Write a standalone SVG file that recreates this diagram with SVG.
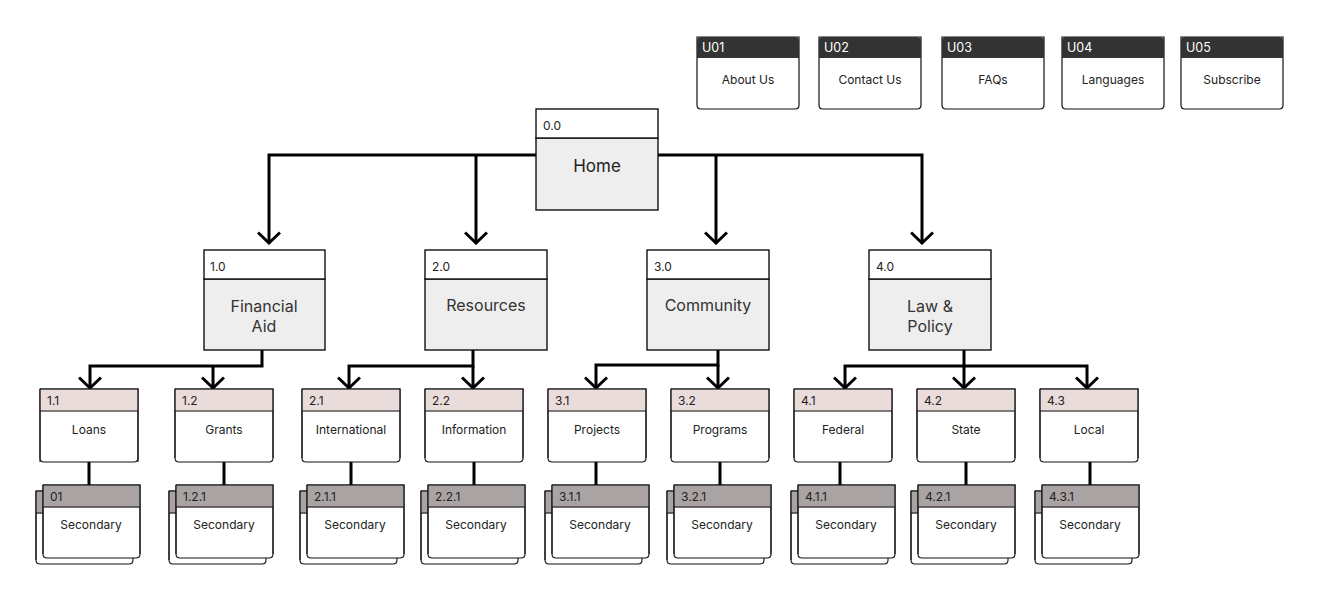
<svg xmlns="http://www.w3.org/2000/svg" width="1319" height="600" viewBox="0 0 1319 600">
<style>
text{font-family:Inter,"Noto Sans","Liberation Sans",sans-serif;fill:#222}
.id{font-size:12px}
.uid{font-size:12.5px;fill:#fff}
.lbl{font-size:12px;text-anchor:middle}
.big{font-size:16px;text-anchor:middle;fill:#333}
.home{font-size:17px;text-anchor:middle;fill:#222}
.ub{fill:#fff;stroke:#111;stroke-width:1.2}
.uh{fill:#333}
.b1{fill:#eee;stroke:#111;stroke-width:1.4}
.h1{fill:#fff;stroke:#111;stroke-width:1.4}
.b2{fill:#fff;stroke:#111;stroke-width:1.1}
.h2{fill:#ebdcdc}
.h3{fill:#aaa3a3}
.c{fill:none;stroke:#000;stroke-width:3}
</style>
<defs>
<marker id="arr" markerUnits="userSpaceOnUse" viewBox="-13 -12 15 24" markerWidth="15" markerHeight="24" refX="0" refY="0" orient="auto">
<path d="M-10.5,-11 L0,0 L-10.5,11" fill="none" stroke="#000" stroke-width="3"/>
</marker>
<path id="lv2" d="M0,0 H98 V69 Q98,73 94,73 H4 Q0,73 0,69 Z"/>
<path id="sec" d="M0,0 H97 V69 Q97,73 93,73 H4 Q0,73 0,69 Z"/>
</defs>

<g id="connectors">
<path class="c" d="M536,155 H269 V243" marker-end="url(#arr)"/>
<path class="c" d="M476,155 V243" marker-end="url(#arr)"/>
<path class="c" d="M658,155 H922 V243" marker-end="url(#arr)"/>
<path class="c" d="M716,155 V243" marker-end="url(#arr)"/>

<path class="c" d="M262,350 V366 H90 V388" marker-end="url(#arr)"/>
<path class="c" d="M213,366 V388" marker-end="url(#arr)"/>
<path class="c" d="M473,350 V366 H349 V388" marker-end="url(#arr)"/>
<path class="c" d="M473,366 V388" marker-end="url(#arr)"/>
<path class="c" d="M718,350 V365 H596 V388" marker-end="url(#arr)"/>
<path class="c" d="M718,365 V388" marker-end="url(#arr)"/>
<path class="c" d="M964,350 V366 H845 V388" marker-end="url(#arr)"/>
<path class="c" d="M964,366 V388" marker-end="url(#arr)"/>
<path class="c" d="M964,366 H1087 V388" marker-end="url(#arr)"/>

<path class="c" d="M89,462 V485 M224,462 V485 M351,462 V485 M474,462 V485 M596,462 V485 M720,462 V485 M840,462 V485 M966,462 V485 M1090,462 V485"/>
</g>

<!-- utility nodes -->
<g id="u01"><path class="ub" d="M697,37 H799 V105 Q799,109 795,109 H701 Q697,109 697,105 Z"/><path class="uh" d="M697,58 V41 Q697,37 701,37 H795 Q799,37 799,41 V58 Z"/><text class="uid" x="702" y="52">U01</text><text class="lbl" x="748" y="84">About Us</text></g>
<g id="u02"><path class="ub" d="M819,37 H921 V105 Q921,109 917,109 H823 Q819,109 819,105 Z"/><path class="uh" d="M819,58 V41 Q819,37 823,37 H917 Q921,37 921,41 V58 Z"/><text class="uid" x="824" y="52">U02</text><text class="lbl" x="870" y="84">Contact Us</text></g>
<g id="u03"><path class="ub" d="M942,37 H1044 V105 Q1044,109 1040,109 H946 Q942,109 942,105 Z"/><path class="uh" d="M942,58 V41 Q942,37 946,37 H1040 Q1044,37 1044,41 V58 Z"/><text class="uid" x="947" y="52">U03</text><text class="lbl" x="993" y="84">FAQs</text></g>
<g id="u04"><path class="ub" d="M1062,37 H1164 V105 Q1164,109 1160,109 H1066 Q1062,109 1062,105 Z"/><path class="uh" d="M1062,58 V41 Q1062,37 1066,37 H1160 Q1164,37 1164,41 V58 Z"/><text class="uid" x="1067" y="52">U04</text><text class="lbl" x="1113" y="84">Languages</text></g>
<g id="u05"><path class="ub" d="M1181,37 H1283 V105 Q1283,109 1279,109 H1185 Q1181,109 1181,105 Z"/><path class="uh" d="M1181,58 V41 Q1181,37 1185,37 H1279 Q1283,37 1283,41 V58 Z"/><text class="uid" x="1186" y="52">U05</text><text class="lbl" x="1232" y="84">Subscribe</text></g>

<!-- home -->
<g id="n0"><rect class="b1" x="536" y="138" width="122" height="72"/><rect class="h1" x="536" y="109" width="122" height="29"/><text class="id" x="543" y="130">0.0</text><text class="home" x="597" y="172">Home</text></g>

<!-- level 1 -->
<g id="n1"><rect class="b1" x="204" y="279" width="121" height="71"/><rect class="h1" x="204" y="250" width="121" height="29"/><text class="id" x="210" y="271">1.0</text><text class="big" x="264" y="312">Financial</text><text class="big" x="264" y="332">Aid</text></g>
<g id="n2"><rect class="b1" x="425" y="279" width="122" height="71"/><rect class="h1" x="425" y="250" width="122" height="29"/><text class="id" x="432" y="271">2.0</text><text class="big" x="486" y="311">Resources</text></g>
<g id="n3"><rect class="b1" x="647" y="279" width="122" height="71"/><rect class="h1" x="647" y="250" width="122" height="29"/><text class="id" x="654" y="271">3.0</text><text class="big" x="708" y="311">Community</text></g>
<g id="n4"><rect class="b1" x="869" y="279" width="122" height="71"/><rect class="h1" x="869" y="250" width="122" height="29"/><text class="id" x="876" y="271">4.0</text><text class="big" x="930" y="312">Law &amp;</text><text class="big" x="930" y="332">Policy</text></g>

<!-- level 2 -->
<g id="n11" transform="translate(40,389)"><use href="#lv2" class="b2"/><rect class="h2" x="0.5" y="0.5" width="97" height="22"/><path d="M0,0 H98 V73 M0,0 V73 M0,22 H98" fill="none" stroke="#111" stroke-width="1.1"/><text class="id" x="7" y="16">1.1</text><text class="lbl" x="49" y="45">Loans</text></g>
<g id="n12" transform="translate(175,389)"><use href="#lv2" class="b2"/><rect class="h2" x="0.5" y="0.5" width="97" height="22"/><path d="M0,0 H98 V69 M0,0 V69 M0,22 H98" fill="none" stroke="#111" stroke-width="1.1"/><text class="id" x="7" y="16">1.2</text><text class="lbl" x="49" y="45">Grants</text></g>
<g id="n21" transform="translate(302,389)"><use href="#lv2" class="b2"/><rect class="h2" x="0.5" y="0.5" width="97" height="22"/><path d="M0,0 H98 V69 M0,0 V69 M0,22 H98" fill="none" stroke="#111" stroke-width="1.1"/><text class="id" x="7" y="16">2.1</text><text class="lbl" x="49" y="45">International</text></g>
<g id="n22" transform="translate(425,389)"><use href="#lv2" class="b2"/><rect class="h2" x="0.5" y="0.5" width="97" height="22"/><path d="M0,0 H98 V69 M0,0 V69 M0,22 H98" fill="none" stroke="#111" stroke-width="1.1"/><text class="id" x="7" y="16">2.2</text><text class="lbl" x="49" y="45">Information</text></g>
<g id="n31" transform="translate(548,389)"><use href="#lv2" class="b2"/><rect class="h2" x="0.5" y="0.5" width="97" height="22"/><path d="M0,0 H98 V69 M0,0 V69 M0,22 H98" fill="none" stroke="#111" stroke-width="1.1"/><text class="id" x="7" y="16">3.1</text><text class="lbl" x="49" y="45">Projects</text></g>
<g id="n32" transform="translate(671,389)"><use href="#lv2" class="b2"/><rect class="h2" x="0.5" y="0.5" width="97" height="22"/><path d="M0,0 H98 V69 M0,0 V69 M0,22 H98" fill="none" stroke="#111" stroke-width="1.1"/><text class="id" x="7" y="16">3.2</text><text class="lbl" x="49" y="45">Programs</text></g>
<g id="n41" transform="translate(794,389)"><use href="#lv2" class="b2"/><rect class="h2" x="0.5" y="0.5" width="97" height="22"/><path d="M0,0 H98 V69 M0,0 V69 M0,22 H98" fill="none" stroke="#111" stroke-width="1.1"/><text class="id" x="7" y="16">4.1</text><text class="lbl" x="49" y="45">Federal</text></g>
<g id="n42" transform="translate(917,389)"><use href="#lv2" class="b2"/><rect class="h2" x="0.5" y="0.5" width="97" height="22"/><path d="M0,0 H98 V69 M0,0 V69 M0,22 H98" fill="none" stroke="#111" stroke-width="1.1"/><text class="id" x="7" y="16">4.2</text><text class="lbl" x="49" y="45">State</text></g>
<g id="n43" transform="translate(1040,389)"><use href="#lv2" class="b2"/><rect class="h2" x="0.5" y="0.5" width="97" height="22"/><path d="M0,0 H98 V69 M0,0 V69 M0,22 H98" fill="none" stroke="#111" stroke-width="1.1"/><text class="id" x="7" y="16">4.3</text><text class="lbl" x="49" y="45">Local</text></g>

<!-- secondary -->
<g id="s11" transform="translate(43,485)"><g transform="translate(-7,6)"><use href="#sec" class="b2"/><rect class="h3" x="0.5" y="0.5" width="96" height="22"/><path d="M0,0 H97 M0,0 V69 M0,22 H8" fill="none" stroke="#111" stroke-width="1.1"/></g><use href="#sec" class="b2"/><rect class="h3" x="0.5" y="0.5" width="96" height="22"/><path d="M0,0 H97 V69 M0,0 V69 M0,22 H97" fill="none" stroke="#111" stroke-width="1.1"/><text class="id" x="7" y="16">01</text><text class="lbl" x="48" y="44">Secondary</text></g>
<g id="s12" transform="translate(176,485)"><g transform="translate(-7,6)"><use href="#sec" class="b2"/><rect class="h3" x="0.5" y="0.5" width="96" height="22"/><path d="M0,0 H97 M0,0 V69 M0,22 H8" fill="none" stroke="#111" stroke-width="1.1"/></g><use href="#sec" class="b2"/><rect class="h3" x="0.5" y="0.5" width="96" height="22"/><path d="M0,0 H97 V69 M0,0 V69 M0,22 H97" fill="none" stroke="#111" stroke-width="1.1"/><text class="id" x="7" y="16">1.2.1</text><text class="lbl" x="48" y="44">Secondary</text></g>
<g id="s21" transform="translate(307,485)"><g transform="translate(-7,6)"><use href="#sec" class="b2"/><rect class="h3" x="0.5" y="0.5" width="96" height="22"/><path d="M0,0 H97 M0,0 V69 M0,22 H8" fill="none" stroke="#111" stroke-width="1.1"/></g><use href="#sec" class="b2"/><rect class="h3" x="0.5" y="0.5" width="96" height="22"/><path d="M0,0 H97 V69 M0,0 V69 M0,22 H97" fill="none" stroke="#111" stroke-width="1.1"/><text class="id" x="7" y="16">2.1.1</text><text class="lbl" x="48" y="44">Secondary</text></g>
<g id="s22" transform="translate(428,485)"><g transform="translate(-7,6)"><use href="#sec" class="b2"/><rect class="h3" x="0.5" y="0.5" width="96" height="22"/><path d="M0,0 H97 M0,0 V69 M0,22 H8" fill="none" stroke="#111" stroke-width="1.1"/></g><use href="#sec" class="b2"/><rect class="h3" x="0.5" y="0.5" width="96" height="22"/><path d="M0,0 H97 V69 M0,0 V69 M0,22 H97" fill="none" stroke="#111" stroke-width="1.1"/><text class="id" x="7" y="16">2.2.1</text><text class="lbl" x="48" y="44">Secondary</text></g>
<g id="s31" transform="translate(552,485)"><g transform="translate(-7,6)"><use href="#sec" class="b2"/><rect class="h3" x="0.5" y="0.5" width="96" height="22"/><path d="M0,0 H97 M0,0 V69 M0,22 H8" fill="none" stroke="#111" stroke-width="1.1"/></g><use href="#sec" class="b2"/><rect class="h3" x="0.5" y="0.5" width="96" height="22"/><path d="M0,0 H97 V69 M0,0 V69 M0,22 H97" fill="none" stroke="#111" stroke-width="1.1"/><text class="id" x="7" y="16">3.1.1</text><text class="lbl" x="48" y="44">Secondary</text></g>
<g id="s32" transform="translate(674,485)"><g transform="translate(-7,6)"><use href="#sec" class="b2"/><rect class="h3" x="0.5" y="0.5" width="96" height="22"/><path d="M0,0 H97 M0,0 V69 M0,22 H8" fill="none" stroke="#111" stroke-width="1.1"/></g><use href="#sec" class="b2"/><rect class="h3" x="0.5" y="0.5" width="96" height="22"/><path d="M0,0 H97 V69 M0,0 V69 M0,22 H97" fill="none" stroke="#111" stroke-width="1.1"/><text class="id" x="7" y="16">3.2.1</text><text class="lbl" x="48" y="44">Secondary</text></g>
<g id="s41" transform="translate(798,485)"><g transform="translate(-7,6)"><use href="#sec" class="b2"/><rect class="h3" x="0.5" y="0.5" width="96" height="22"/><path d="M0,0 H97 M0,0 V69 M0,22 H8" fill="none" stroke="#111" stroke-width="1.1"/></g><use href="#sec" class="b2"/><rect class="h3" x="0.5" y="0.5" width="96" height="22"/><path d="M0,0 H97 V69 M0,0 V69 M0,22 H97" fill="none" stroke="#111" stroke-width="1.1"/><text class="id" x="7" y="16">4.1.1</text><text class="lbl" x="48" y="44">Secondary</text></g>
<g id="s42" transform="translate(918,485)"><g transform="translate(-7,6)"><use href="#sec" class="b2"/><rect class="h3" x="0.5" y="0.5" width="96" height="22"/><path d="M0,0 H97 M0,0 V69 M0,22 H8" fill="none" stroke="#111" stroke-width="1.1"/></g><use href="#sec" class="b2"/><rect class="h3" x="0.5" y="0.5" width="96" height="22"/><path d="M0,0 H97 V69 M0,0 V69 M0,22 H97" fill="none" stroke="#111" stroke-width="1.1"/><text class="id" x="7" y="16">4.2.1</text><text class="lbl" x="48" y="44">Secondary</text></g>
<g id="s43" transform="translate(1042,485)"><g transform="translate(-7,6)"><use href="#sec" class="b2"/><rect class="h3" x="0.5" y="0.5" width="96" height="22"/><path d="M0,0 H97 M0,0 V69 M0,22 H8" fill="none" stroke="#111" stroke-width="1.1"/></g><use href="#sec" class="b2"/><rect class="h3" x="0.5" y="0.5" width="96" height="22"/><path d="M0,0 H97 V69 M0,0 V69 M0,22 H97" fill="none" stroke="#111" stroke-width="1.1"/><text class="id" x="7" y="16">4.3.1</text><text class="lbl" x="48" y="44">Secondary</text></g>
</svg>
